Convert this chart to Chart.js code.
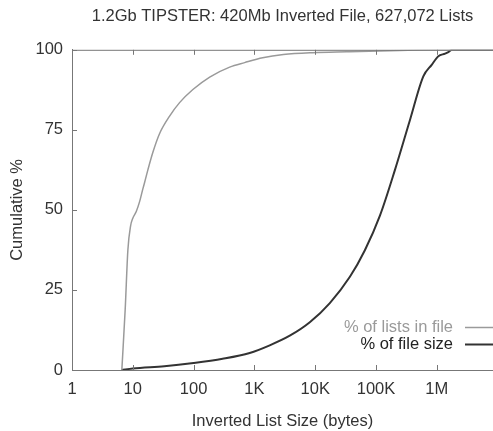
<!DOCTYPE html>
<html>
<head>
<meta charset="utf-8">
<script src="https://cdn.jsdelivr.net/npm/chart.js@4"></script>
<style>
  html, body { margin: 0; padding: 0; background: #fff; }
</style>
</head>
<body>
<canvas id="invChart" width="493" height="431"></canvas>
<script>
// cumulative % of inverted lists, by list size (bytes)
const listSizes = [6.6, 7.5, 8.3, 9.2, 10, 11.4, 12.9, 14.6, 15.6, 17.7, 21.4, 27.5, 40.3, 58.8, 97.3, 184, 392, 692, 1370, 3000, 9120, 33200, 245000, 1130000, 8400000];
const listsPct = [0, 19, 37.5, 45, 47.4, 49.5, 52.5, 56.5, 58.5, 62.5, 68, 73.8, 79.3, 83.5, 87.6, 91.5, 94.6, 96, 97.5, 98.5, 99.1, 99.4, 99.8, 100, 100];

// cumulative % of file size, by list size (bytes)
const fileSizes = [6.5, 10, 33, 100, 300, 837, 1787, 3816, 8150, 17400, 37200, 65600, 116000, 205000, 361000, 600000, 824000, 1060000, 1370000, 1550000, 1780000, 8400000];
const filePct = [0, 0.5, 1.2, 2.2, 3.5, 5.3, 7.7, 10.7, 14.9, 20.9, 29.1, 37.4, 48.2, 62.5, 78, 91.7, 95.3, 98, 98.8, 99.3, 100, 100];

const xTickValues = [1, 10, 100, 1e3, 1e4, 1e5, 1e6];
const xTickLabels = ['1', '10', '100', '1K', '10K', '100K', '1M'];
const yTickValues = [0, 25, 50, 75, 100];

const FONT = '"Liberation Sans", Arial, Helvetica, sans-serif';
const TEXT = '#333';
const AXIS = '#777';

function toPoints(xs, ys) {
  return xs.map((v, i) => ({ x: v, y: ys[i] }));
}

// ticks pointing into the plot, plus the top frame line
const innerTicks = {
  id: 'innerTicks',
  afterDatasetsDraw(chart) {
    const { ctx, chartArea: a, scales: { x, y } } = chart;
    ctx.save();
    ctx.strokeStyle = AXIS;
    ctx.lineWidth = 1;
    ctx.beginPath();
    ctx.moveTo(a.left, a.top + 0.5);
    ctx.lineTo(a.right, a.top + 0.5);
    xTickValues.forEach(v => {
      const px = Math.round(x.getPixelForValue(v)) + 0.5;
      ctx.moveTo(px, a.bottom);
      ctx.lineTo(px, a.bottom - 5);
      ctx.moveTo(px, a.top);
      ctx.lineTo(px, a.top + 5);
    });
    yTickValues.forEach(v => {
      const py = Math.round(y.getPixelForValue(v)) + 0.5;
      ctx.moveTo(a.left, py);
      ctx.lineTo(a.left + 5, py);
    });
    ctx.stroke();
    ctx.restore();
  }
};

// legend inside the plot, text to the left of its line sample
const innerLegend = {
  id: 'innerLegend',
  afterDraw(chart) {
    const ctx = chart.ctx;
    const rows = [327, 344];
    ctx.save();
    ctx.font = '16.5px ' + FONT;
    ctx.textAlign = 'right';
    ctx.textBaseline = 'middle';
    chart.data.datasets.forEach((ds, i) => {
      ctx.fillStyle = ds.legendColor;
      ctx.fillText(ds.label, 453, rows[i]);
      ctx.strokeStyle = ds.borderColor;
      ctx.lineWidth = ds.borderWidth;
      ctx.beginPath();
      ctx.moveTo(465, rows[i] + 0.5);
      ctx.lineTo(493, rows[i] + 0.5);
      ctx.stroke();
    });
    ctx.restore();
  }
};

new Chart(document.getElementById('invChart'), {
  type: 'line',
  data: {
    datasets: [{
      label: '% of lists in file',
      data: toPoints(listSizes, listsPct),
      borderColor: '#9a9a9a',
      legendColor: '#9a9a9a',
      borderWidth: 1.5,
      pointRadius: 0,
      cubicInterpolationMode: 'monotone'
    }, {
      label: '% of file size',
      data: toPoints(fileSizes, filePct),
      borderColor: '#333',
      legendColor: '#222',
      borderWidth: 2,
      pointRadius: 0,
      cubicInterpolationMode: 'monotone'
    }]
  },
  options: {
    responsive: false,
    animation: false,
    devicePixelRatio: 1,
    layout: { padding: 0 },
    plugins: {
      legend: { display: false },
      tooltip: { enabled: false },
      title: {
        display: true,
        fullSize: false,
        text: '1.2Gb TIPSTER: 420Mb Inverted File, 627,072 Lists',
        color: TEXT,
        font: { family: FONT, size: 16.5, weight: 'normal' },
        padding: { top: 7, bottom: 23 }
      }
    },
    scales: {
      x: {
        type: 'logarithmic',
        min: 1,
        max: 8400000,
        afterBuildTicks: s => { s.ticks = xTickValues.map(v => ({ value: v })); },
        afterFit: s => { s.height = 61; },
        ticks: {
          autoSkip: false,
          maxRotation: 0,
          padding: 10,
          color: TEXT,
          font: { family: FONT, size: 16.5 },
          callback: v => xTickLabels[xTickValues.indexOf(v)] ?? ''
        },
        grid: { display: false, drawTicks: false },
        border: { color: AXIS, width: 1 },
        title: {
          display: true,
          text: 'Inverted List Size (bytes)',
          color: TEXT,
          font: { family: FONT, size: 16.5 },
          padding: { top: 0, bottom: 0 }
        }
      },
      y: {
        min: 0,
        max: 100,
        afterBuildTicks: s => { s.ticks = yTickValues.map(v => ({ value: v })); },
        afterFit: s => { s.width = 72; },
        ticks: {
          padding: 9,
          color: TEXT,
          font: { family: FONT, size: 16.5 }
        },
        grid: { display: false, drawTicks: false },
        border: { color: AXIS, width: 1 },
        title: {
          display: true,
          text: 'Cumulative %',
          color: TEXT,
          font: { family: FONT, size: 16.5 },
          padding: { top: 8, bottom: 0 }
        }
      }
    }
  },
  plugins: [innerTicks, innerLegend]
});
</script>
</body>
</html>
